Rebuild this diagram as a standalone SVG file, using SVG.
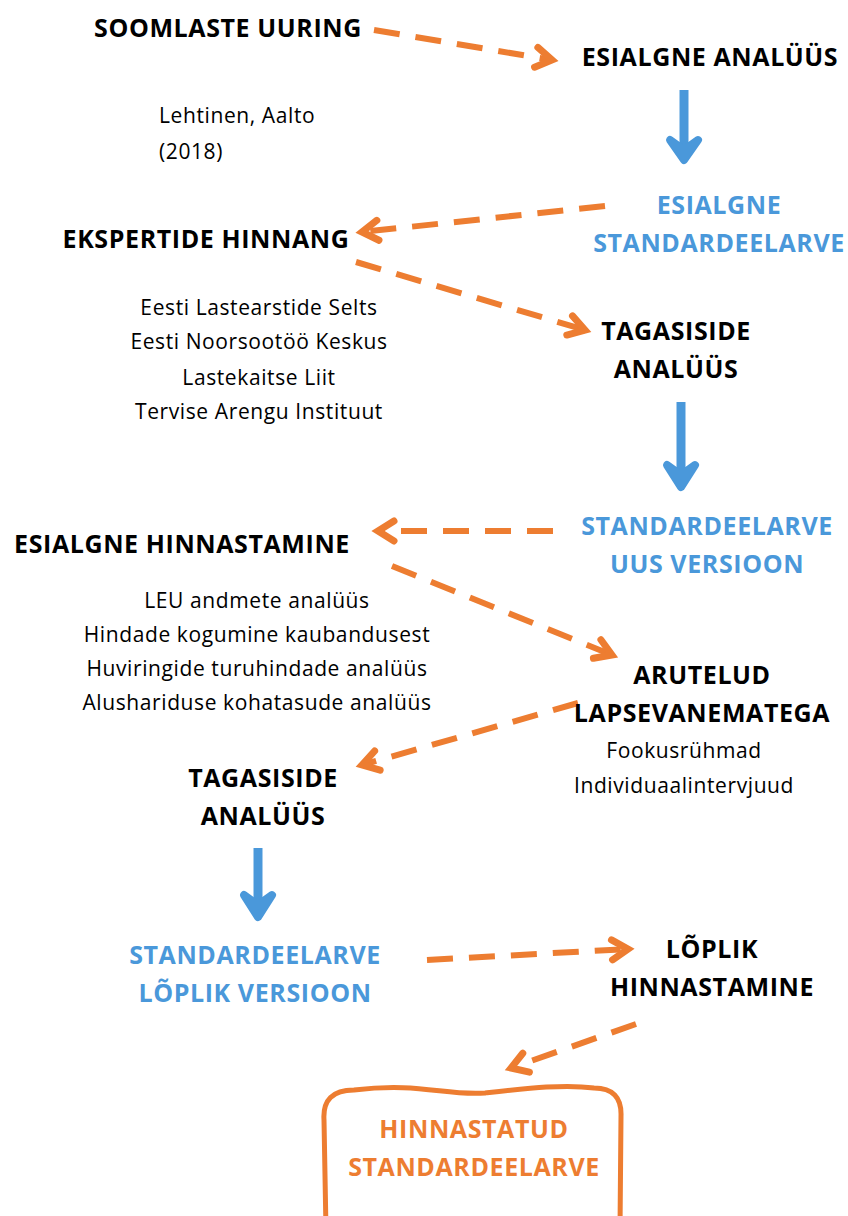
<svg xmlns="http://www.w3.org/2000/svg" width="848" height="1216" viewBox="0 0 848 1216">
<defs>
<style>
.h{font-family:"Open Sans","Liberation Sans",sans-serif;font-weight:bold;font-size:25px;letter-spacing:0.6px;text-anchor:middle;fill:#000}
.b{fill:#4A98DA}
.o{fill:#ED7D31}
.t{font-family:"Open Sans","Liberation Sans",sans-serif;font-size:21px;letter-spacing:0.6px;fill:#000}
.c{text-anchor:middle}
.d{fill:none;stroke:#ED7D31;stroke-width:6;stroke-dasharray:26 16;stroke-linecap:butt}
.s{fill:none;stroke:#4A98DA;stroke-width:9}
.bh{fill:#4A98DA;stroke:#4A98DA;stroke-width:8;stroke-linejoin:round;stroke-linecap:round}
</style>
<marker id="oa" markerUnits="userSpaceOnUse" viewBox="-30 -20 40 40" markerWidth="40" markerHeight="40" refX="0" refY="0" orient="auto">
<path d="M-16,-10 L0,0 L-16,10" fill="none" stroke="#ED7D31" stroke-width="7" stroke-linecap="round" stroke-linejoin="miter"/>
</marker>
</defs>
<g id="connectors">
<path class="d" d="M374,30 L552,60" marker-end="url(#oa)"/>
<path class="s" d="M684,90 L684,150"/>
<path class="bh" d="M670,140 L684,160 L698,140 L684,150 Z"/>
<path class="d" d="M605,206 L362,232" marker-end="url(#oa)"/>
<path class="d" d="M356,262 L585,330" marker-end="url(#oa)"/>
<path class="s" d="M681,402 L681,475"/>
<path class="bh" d="M667,465 L681,487 L695,465 L681,475 Z"/>
<path class="d" d="M553,531 L378,531" marker-end="url(#oa)"/>
<path class="d" d="M392,566 L612,655" marker-end="url(#oa)"/>
<path class="d" d="M578,703 L362,765" marker-end="url(#oa)"/>
<path class="s" d="M258,848 L258,905"/>
<path class="bh" d="M244,895 L258,917 L272,895 L258,905 Z"/>
<path class="d" d="M427,960 L628,949" marker-end="url(#oa)"/>
<path class="d" d="M636,1024 L511,1068" marker-end="url(#oa)"/>
</g>
<g id="n1"><text class="h" x="228" y="37">SOOMLASTE UURING</text></g>
<g id="n2"><text class="h" x="710" y="66">ESIALGNE ANALÜÜS</text></g>
<g id="src"><text class="t" x="159" y="123">Lehtinen, Aalto</text><text class="t" x="159" y="159">(2018)</text></g>
<g id="n3"><text class="h b" x="719" y="214">ESIALGNE</text><text class="h b" x="719" y="252">STANDARDEELARVE</text></g>
<g id="n4"><text class="h" x="206" y="248">EKSPERTIDE HINNANG</text>
<text class="t c" x="259" y="315">Eesti Lastearstide Selts</text>
<text class="t c" x="259" y="349">Eesti Noorsootöö Keskus</text>
<text class="t c" x="259" y="385">Lastekaitse Liit</text>
<text class="t c" x="259" y="419">Tervise Arengu Instituut</text></g>
<g id="n5"><text class="h" x="676" y="340">TAGASISIDE</text><text class="h" x="676" y="378">ANALÜÜS</text></g>
<g id="n6"><text class="h b" x="707" y="535">STANDARDEELARVE</text><text class="h b" x="707" y="573">UUS VERSIOON</text></g>
<g id="n7"><text class="h" x="182" y="553">ESIALGNE HINNASTAMINE</text>
<text class="t c" x="257" y="608">LEU andmete analüüs</text>
<text class="t c" x="257" y="642">Hindade kogumine kaubandusest</text>
<text class="t c" x="257" y="676">Huviringide turuhindade analüüs</text>
<text class="t c" x="257" y="710">Alushariduse kohatasude analüüs</text></g>
<g id="n8"><text class="h" x="702" y="684">ARUTELUD</text><text class="h" x="702" y="722">LAPSEVANEMATEGA</text>
<text class="t c" x="684" y="758">Fookusrühmad</text>
<text class="t c" x="684" y="793">Individuaalintervjuud</text></g>
<g id="n9"><text class="h" x="263" y="787">TAGASISIDE</text><text class="h" x="263" y="825">ANALÜÜS</text></g>
<g id="n10"><text class="h b" x="255" y="964">STANDARDEELARVE</text><text class="h b" x="255" y="1002">LÕPLIK VERSIOON</text></g>
<g id="n11"><text class="h" x="712" y="958">LÕPLIK</text><text class="h" x="712" y="996">HINNASTAMINE</text></g>
<g id="n12">
<path d="M326,1230 L324,1120 Q322,1090 354,1090 C420,1082 445,1096 485,1093 C530,1088 565,1084 594,1088 Q622,1088 621,1116 L620,1230" fill="none" stroke="#ED7D31" stroke-width="5" stroke-linecap="round"/>
<text class="h o" x="474" y="1138">HINNASTATUD</text><text class="h o" x="474" y="1176">STANDARDEELARVE</text></g>
</svg>
